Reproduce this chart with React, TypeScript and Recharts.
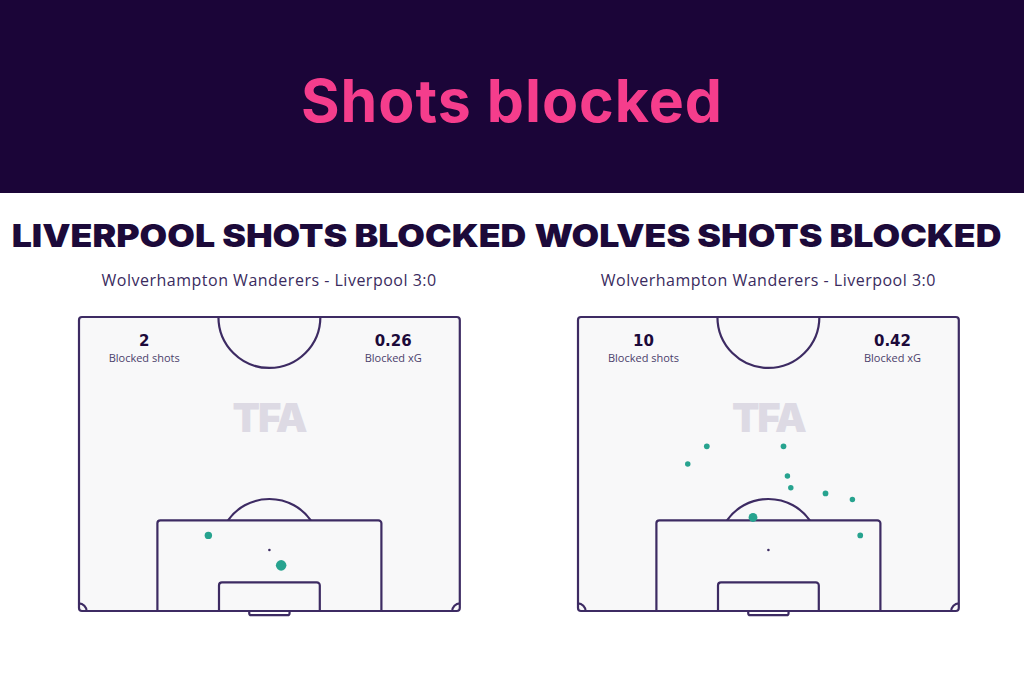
import {
  ScatterChart,
  Scatter,
  XAxis,
  YAxis,
  ZAxis,
  ReferenceArea,
  ReferenceDot,
  Rectangle,
} from "recharts";

// shot locations in metres: x across the pitch, y out from the goal line
const liverpoolShots = [
  { x: 23.1, y: 13.5, xg: 0.08 },
  { x: 36.1, y: 8.15, xg: 0.18 },
];

const wolvesShots = [
  { x: 23.0, y: 29.4, xg: 0.04 },
  { x: 19.6, y: 26.25, xg: 0.035 },
  { x: 36.7, y: 29.4, xg: 0.04 },
  { x: 37.4, y: 24.1, xg: 0.035 },
  { x: 38.0, y: 22.0, xg: 0.035 },
  { x: 44.2, y: 21.0, xg: 0.04 },
  { x: 49.0, y: 19.9, xg: 0.035 },
  { x: 31.25, y: 16.7, xg: 0.12 },
  { x: 50.4, y: 13.5, xg: 0.04 },
];

const titles = ["LIVERPOOL SHOTS BLOCKED", "WOLVES SHOTS BLOCKED"];
const matchLabel = "Wolverhampton Wanderers - Liverpool 3:0";
const blockedShots = ["2", "10"];
const blockedXg = ["0.26", "0.42"];

const PITCH_W = 68;
const PITCH_H = 52.5;
const PX = 5.6;
const PAD = 12;
const CIRCLE_R = 9.1;
const SPOT = 10.9;
const BOX_DEPTH = 16.2;
const CORNER_R = 1.35;

const LINE = "#3d2b63";
const TEAL = "#27a38f";
const PITCH_BG = "#f8f8f9";
const NAVY = "#1c0a3a";

const lineProps = { fill: "none", stroke: LINE, strokeWidth: 2.2 };

type Shot = { x: number; y: number; xg: number };

const Pitch = ({ left, top, shots, idx }: { left: number; top: number; shots: Shot[]; idx: number }) => {
  const R = CIRCLE_R * PX;
  const cr = CORNER_R * PX;
  const dy = (BOX_DEPTH - SPOT) * PX;
  const dx = Math.sqrt(R * R - dy * dy);
  const pitchW = PITCH_W * PX;

  return (
    <>
      <div style={{ position: "absolute", left: left - PAD, top: top - PAD }}>
        <ScatterChart
          width={pitchW + PAD * 2}
          height={PITCH_H * PX + PAD * 2}
          margin={{ top: PAD, right: PAD, bottom: PAD, left: PAD }}
        >
          <XAxis type="number" dataKey="x" domain={[0, PITCH_W]} hide />
          <YAxis type="number" dataKey="y" domain={[0, PITCH_H]} hide />
          <ZAxis type="number" dataKey="xg" domain={[0, 0.2]} range={[8, 96]} />
          <ReferenceArea
            x1={0}
            x2={PITCH_W}
            y1={0}
            y2={PITCH_H}
            shape={(p: any) => (
              <rect x={p.x} y={p.y} width={p.width} height={p.height} rx={3} fill={PITCH_BG} stroke={LINE} strokeWidth={2.2} />
            )}
          />
          <ReferenceArea
            x1={30.4}
            x2={37.6}
            y1={-0.75}
            y2={0}
            ifOverflow="visible"
            shape={(p: any) => <Rectangle x={p.x} y={p.y} width={p.width} height={p.height} radius={[0, 0, 2, 2]} {...lineProps} />}
          />
          <ReferenceArea
            x1={14}
            x2={54}
            y1={0}
            y2={BOX_DEPTH}
            shape={(p: any) => <Rectangle x={p.x} y={p.y} width={p.width} height={p.height} radius={[3, 3, 0, 0]} {...lineProps} />}
          />
          <ReferenceArea
            x1={25}
            x2={43}
            y1={0}
            y2={5.1}
            shape={(p: any) => <Rectangle x={p.x} y={p.y} width={p.width} height={p.height} radius={[3, 3, 0, 0]} {...lineProps} />}
          />
          <ReferenceDot
            x={PITCH_W / 2}
            y={PITCH_H}
            shape={(p: any) => <path d={`M ${p.cx - R} ${p.cy} A ${R} ${R} 0 0 0 ${p.cx + R} ${p.cy}`} {...lineProps} />}
          />
          <ReferenceDot
            x={PITCH_W / 2}
            y={SPOT}
            shape={(p: any) => (
              <g>
                <path d={`M ${p.cx - dx} ${p.cy - dy} A ${R} ${R} 0 0 1 ${p.cx + dx} ${p.cy - dy}`} {...lineProps} />
                <circle cx={p.cx} cy={p.cy} r={1.3} fill={LINE} />
              </g>
            )}
          />
          <ReferenceDot
            x={0}
            y={0}
            shape={(p: any) => <path d={`M ${p.cx} ${p.cy - cr} A ${cr} ${cr} 0 0 1 ${p.cx + cr} ${p.cy}`} {...lineProps} />}
          />
          <ReferenceDot
            x={PITCH_W}
            y={0}
            shape={(p: any) => <path d={`M ${p.cx - cr} ${p.cy} A ${cr} ${cr} 0 0 1 ${p.cx} ${p.cy - cr}`} {...lineProps} />}
          />
          <Scatter data={shots} fill={TEAL} isAnimationActive={false} />
        </ScatterChart>
      </div>

      {/* watermark */}
      <div
        style={{
          position: "absolute",
          left,
          width: pitchW,
          top: 398,
          textAlign: "center",
          font: "900 40px Inter",
          letterSpacing: -2,
          lineHeight: "40px",
          color: "#dddae4",
        }}
      >
        TFA
      </div>

      {/* stats */}
      {[
        { cx: left + 65.5, value: blockedShots[idx], label: "Blocked shots" },
        { cx: left + 314.5, value: blockedXg[idx], label: "Blocked xG" },
      ].map((s) => (
        <div key={s.label} style={{ position: "absolute", left: s.cx - 60, width: 120, top: 332, textAlign: "center" }}>
          <div style={{ font: "bold 15px 'DejaVu Sans'", lineHeight: "18px", color: NAVY }}>{s.value}</div>
          <div style={{ font: "11px 'Open Sans'", lineHeight: "14px", marginTop: 1, color: "#4b3e6b" }}>{s.label}</div>
        </div>
      ))}

      <div
        style={{
          position: "absolute",
          left: left + pitchW / 2 - 280,
          width: 560,
          top: 220.2,
          textAlign: "center",
          font: "900 31px Inter",
          lineHeight: "31px",
          color: NAVY,
          whiteSpace: "nowrap",
          transform: "scaleX(1.15)",
        }}
      >
        {titles[idx]}
      </div>
      <div
        style={{
          position: "absolute",
          left: left + pitchW / 2 - 250,
          width: 500,
          top: 271.5,
          textAlign: "center",
          font: "16px 'Open Sans'",
          letterSpacing: 0.5,
          lineHeight: "16px",
          color: "#3a2b5e",
          whiteSpace: "nowrap",
        }}
      >
        {matchLabel}
      </div>
    </>
  );
};

export default function App() {
  return (
    <div style={{ position: "absolute", left: 0, top: 0, width: 1024, height: 683, background: "#fff", overflow: "hidden" }}>
      <div style={{ position: "absolute", left: 0, top: 0, width: 1024, height: 193, background: "#1b0538" }}>
        <div
          style={{
            position: "absolute",
            left: 0,
            width: 1024,
            top: 71,
            textAlign: "center",
            font: "700 59px Inter",
            letterSpacing: 1,
            lineHeight: "59px",
            color: "#f53d8c",
          }}
        >
          Shots blocked
        </div>
      </div>
      <Pitch left={78.7} top={316.7} shots={liverpoolShots} idx={0} />
      <Pitch left={578} top={316.7} shots={wolvesShots} idx={1} />
    </div>
  );
}
